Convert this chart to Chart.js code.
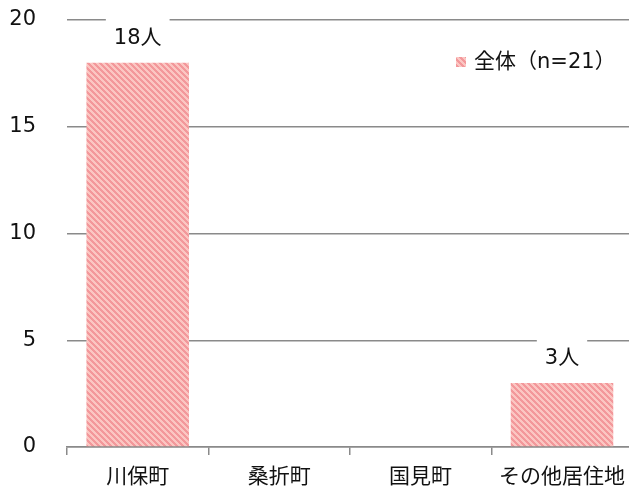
<html>
<head>
<meta charset="utf-8">
<script src="https://cdn.jsdelivr.net/npm/chart.js@4"></script>
<style>
  html, body { margin: 0; padding: 0; background: #fff; overflow: hidden; }
  #wrap { width: 635px; height: 495px; }
</style>
</head>
<body>
<div id="wrap"><canvas id="myChart"></canvas></div>
<script>
  // data
  var categories = ['川保町', '桑折町', '国見町', 'その他居住地'];
  var counts = [18, 0, 0, 3];
  var seriesName = '全体（n=21）';
  var unit = '人';
  var yTicks = [0, 5, 10, 15, 20];

  var FONT = '"DejaVu Sans", "Noto Sans CJK JP", sans-serif';

  // diagonal stripe fill like the original
  function makeStripes() {
    var p = 6;
    var c = document.createElement('canvas');
    c.width = p; c.height = p;
    var g = c.getContext('2d');
    var img = g.createImageData(p, p);
    for (var y = 0; y < p; y++) {
      for (var x = 0; x < p; x++) {
        var k = ((x - y) % p + p) % p;
        var dark = k < 3;
        var i = (y * p + x) * 4;
        img.data[i] = dark ? 0xf3 : 0xfb;
        img.data[i + 1] = dark ? 0x98 : 0xc6;
        img.data[i + 2] = dark ? 0x9b : 0xc2;
        img.data[i + 3] = 255;
      }
    }
    g.putImageData(img, 0, 0);
    return document.getElementById('myChart').getContext('2d').createPattern(c, 'repeat');
  }
  var stripes = makeStripes();

  // value labels with white box + legend drawn by hand
  var extras = {
    id: 'extras',
    afterDatasetsDraw: function (chart) {
      var ctx = chart.ctx;
      var meta = chart.getDatasetMeta(0);
      ctx.save();
      ctx.font = '21px ' + FONT;
      ctx.textAlign = 'center';
      ctx.textBaseline = 'middle';
      meta.data.forEach(function (bar, i) {
        var v = counts[i];
        if (!v) return;
        var txt = v + unit;
        var w = ctx.measureText(txt).width;
        var cy = bar.y - 25;
        ctx.fillStyle = '#fff';
        ctx.fillRect(bar.x - w / 2 - 8, cy - 19, w + 16, 38);
        ctx.fillStyle = '#111';
        ctx.fillText(txt, bar.x, cy + 1);
      });
      // legend
      ctx.fillStyle = stripes;
      ctx.fillRect(456, 57, 10, 10);
      ctx.fillStyle = '#111';
      ctx.textAlign = 'left';
      ctx.fillText(seriesName, 474, 63);
      ctx.restore();
    }
  };

  new Chart(document.getElementById('myChart'), {
    type: 'bar',
    data: {
      labels: categories,
      datasets: [{
        label: seriesName,
        data: counts,
        backgroundColor: stripes,
        borderWidth: 0,
        categoryPercentage: 1,
        barPercentage: 0.725
      }]
    },
    options: {
      responsive: true,
      maintainAspectRatio: false,
      animation: false,
      layout: { padding: { top: 20, left: 0, right: 0, bottom: 0 } },
      plugins: {
        legend: { display: false },
        tooltip: { enabled: false }
      },
      scales: {
        x: {
          grid: {
            offset: true,
            drawOnChartArea: false,
            drawTicks: true,
            tickLength: 8,
            color: '#8a8a8a',
            lineWidth: 1.5
          },
          border: { display: true, color: '#8a8a8a', width: 1.5 },
          ticks: {
            color: '#111',
            padding: 10,
            font: { family: FONT, size: 21 }
          },
          afterFit: function (s) { s.height = 48; }
        },
        y: {
          min: 0,
          max: 20,
          afterBuildTicks: function (s) {
            s.ticks = yTicks.map(function (v) { return { value: v }; });
          },
          grid: {
            drawTicks: true,
            tickLength: 31,
            tickColor: 'rgba(0,0,0,0)',
            color: '#8a8a8a',
            lineWidth: 1.5
          },
          border: { display: false },
          ticks: {
            color: '#111',
            padding: 0,
            font: { family: FONT, size: 21 }
          },
          afterFit: function (s) { s.width = 67; }
        }
      }
    },
    plugins: [extras]
  });
</script>
</body>
</html>
